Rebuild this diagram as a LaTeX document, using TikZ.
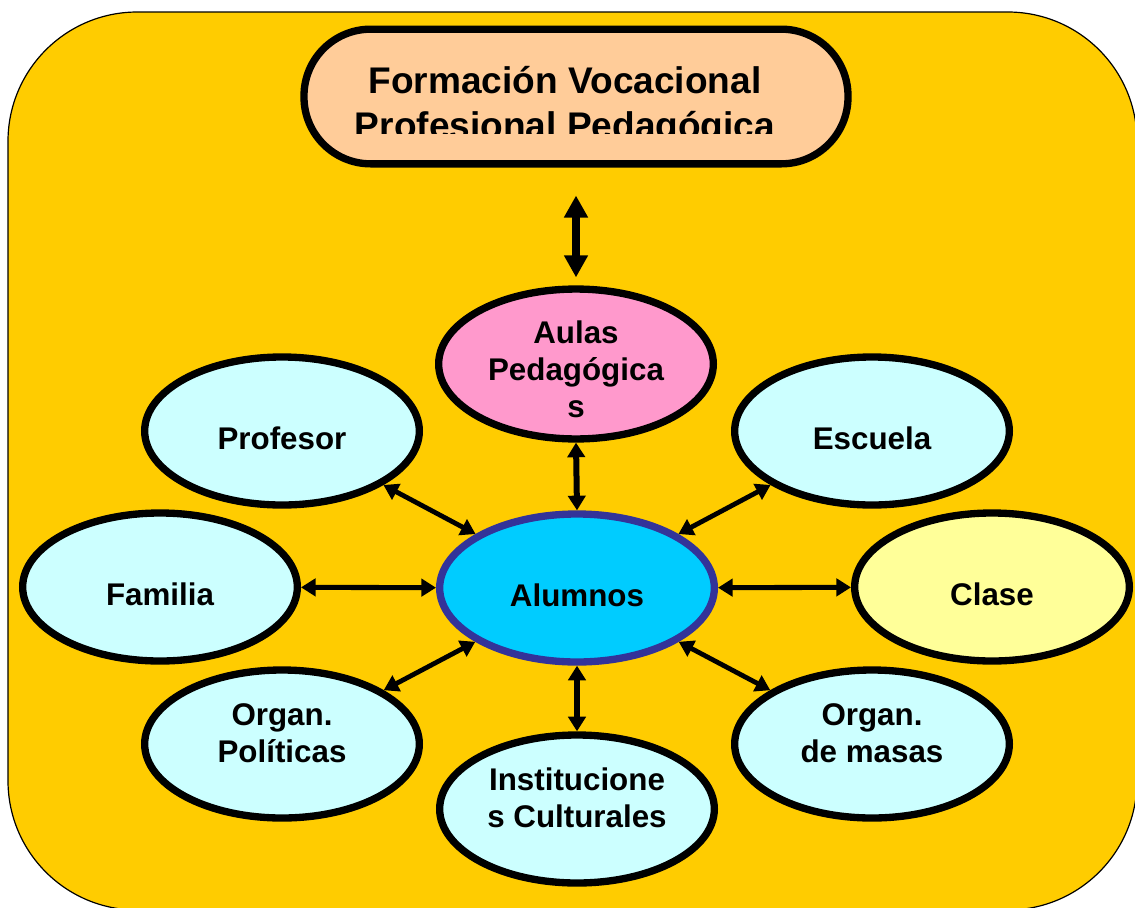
\documentclass[tikz,border=0pt]{standalone}
\usepackage{fontspec}
\setmainfont{Liberation Sans}
\usetikzlibrary{shapes.geometric,arrows.meta}
\definecolor{fondo}{HTML}{FFCC00}
\definecolor{durazno}{HTML}{FFCC99}
\definecolor{rosa}{HTML}{FF99CC}
\definecolor{celeste}{HTML}{CCFFFF}
\definecolor{cielo}{HTML}{00CCFF}
\definecolor{borde}{HTML}{333399}
\definecolor{crema}{HTML}{FFFF99}
\begin{document}
\begin{tikzpicture}
[x=0.75pt,y=-0.75pt,
 bubble/.style={ellipse,draw,line width=5.5pt,fill=celeste,minimum width=206pt,
   minimum height=111pt,inner sep=0pt,align=center,
   font=\fontsize{23.5}{27.75}\selectfont\bfseries,text height=27pt,text depth=0pt},
 titletext/.style={anchor=base,inner sep=0pt,font=\fontsize{27.8}{33.75}\selectfont\bfseries},
 link/.style={<->,>={Triangle[length=11pt,width=13pt]},line width=3.6pt}]
\clip (0,0) rectangle (1135,907);
\fill[white] (0,0) rectangle (1135,907);
%% background
\draw[fill=fondo,line width=0.9pt,rounded corners=97pt] (8,12) rectangle (1137,910);
%% title
\node[draw,fill=durazno,line width=5.5pt,rounded corners=50pt,minimum width=408pt,
  minimum height=101pt,inner sep=0pt] (titulo) at (576,96.5) {};
\node[titletext] (tit1) at (565,93) {Formación Vocacional};
\begin{scope}
\clip (300,25) rectangle (852,133);
\node[titletext] (tit2) at (565,138) {Profesional Pedagógica};
\end{scope}
%% nodes
\node[bubble,fill=rosa,text height=79.5pt] (aulas) at (576,364) {Aulas\\Pedagógica\\s};
\node[bubble] (prof) at (282,431) {Profesor};
\node[bubble] (esc) at (872,431) {Escuela};
\node[bubble] (fam) at (160,587) {Familia};
\node[bubble,fill=cielo,draw=borde,line width=5.5pt] (alum) at (577,588) {Alumnos};
\node[bubble,fill=crema] (clase) at (992,587) {Clase};
\node[bubble] (orgpol) at (282,744) {Organ.\\Políticas};
\node[bubble] (inst) at (577,809) {Institucione\\s Culturales};
\node[bubble] (orgmas) at (872,744) {Organ.\\de masas};
%% connectors
\draw[link,line width=5.5pt,>={Triangle[length=16.5pt,width=17pt]},
  shorten <=21pt,shorten >=6pt] (titulo.south) -- (aulas.north);
\draw[link,line width=4.5pt] (aulas.south) -- (alum.north);
\draw[link,line width=4.5pt] (alum.south) -- (inst.north);
\foreach \n in {prof,esc,orgpol,orgmas}
  \draw[link] (\n) -- (alum);
\draw[link,line width=3.8pt] (fam) -- (alum);
\draw[link,line width=3.8pt] (alum) -- (clase);
\end{tikzpicture}
\end{document}
